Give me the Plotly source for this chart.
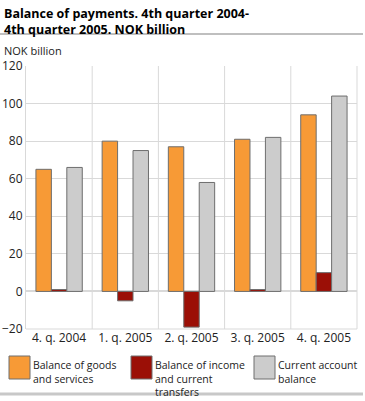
import plotly.graph_objects as go

categories = ["4. q. 2004", "1. q. 2005", "2. q. 2005", "3. q. 2005", "4. q. 2005"]
goods_services = [65, 80, 77, 81, 94]
income_transfers = [1, -5, -19, 1, 10]
current_account = [66, 75, 58, 82, 104]

names = ["Balance of goods<br>and services", "Balance of income<br>and current<br>transfers", "Current account<br>balance"]
colors = ["#f79a36", "#9b0f06", "#cccccc"]
series = [goods_services, income_transfers, current_account]

W, H = 365, 401
ML, MR, MT, MB = 26, 8, 66, 72
PW, PH = W - ML - MR, H - MT - MB


def px(x):
    return (x - ML) / PW


def py(y):
    return (H - MB - y) / PH


fig = go.Figure()
for n, c, s in zip(names, colors, series):
    fig.add_trace(go.Bar(x=categories, y=s, name=n.replace("<br>", " "), showlegend=False, hoverinfo="skip",
                         marker=dict(color=c, line=dict(color="#6e6e6e", width=1))))

fig.update_layout(
    width=W, height=H,
    margin=dict(l=ML, r=MR, t=MT, b=MB, autoexpand=False),
    paper_bgcolor="white", plot_bgcolor="white",
    font=dict(family="Open Sans, DejaVu Sans, sans-serif", size=12, color="#222"),
    barmode="group", bargap=0.3, bargroupgap=0,
    xaxis=dict(showgrid=False, ticks="", tickfont=dict(size=12), showline=False),
    yaxis=dict(range=[-20, 120], dtick=20, gridcolor="#d9d9d9", zeroline=True, zerolinecolor="#d9d9d9",
               showline=True, linecolor="#d9d9d9", ticks="", tickfont=dict(size=12)),
)
for i in range(1, len(categories)):
    fig.add_shape(type="line", xref="x", yref="paper", x0=i - 0.5, x1=i - 0.5, y0=0, y1=1,
                  line=dict(color="#d9d9d9", width=1), layer="below")
fig.add_shape(type="line", xref="paper", yref="paper", x0=1, x1=1, y0=0, y1=1, line=dict(color="#d9d9d9", width=1))
fig.add_shape(type="line", xref="paper", yref="paper", x0=0, x1=1, y0=0, y1=0, line=dict(color="#d9d9d9", width=1))

# title, rules, unit label
fig.add_annotation(text="<b>Balance of payments. 4th quarter 2004-<br>4th quarter 2005. NOK billion</b>",
                   xref="paper", yref="paper", x=px(2), y=py(3), xanchor="left", yanchor="top",
                   align="left", showarrow=False, font=dict(size=12.5, color="#000"))
fig.add_shape(type="line", xref="paper", yref="paper", x0=px(0), x1=px(363), y0=py(34), y1=py(34),
              line=dict(color="#aaaaaa", width=1.5))
fig.add_shape(type="line", xref="paper", yref="paper", x0=px(0), x1=px(363), y0=py(394), y1=py(394),
              line=dict(color="#c8c8c8", width=3))
fig.add_annotation(text="NOK billion", xref="paper", yref="paper", x=px(2), y=py(41),
                   xanchor="left", yanchor="top", showarrow=False, font=dict(size=11, color="#222"))

# legend (drawn as layout boxes + labels)
box_x = [9, 131, 254]
for bx, n, c in zip(box_x, names, colors):
    fig.add_shape(type="rect", xref="paper", yref="paper", x0=px(bx), x1=px(bx + 21), y0=py(356), y1=py(379),
                  fillcolor=c, line=dict(color="#6e6e6e", width=1))
    fig.add_annotation(text=n, xref="paper", yref="paper", x=px(bx + 23), y=py(357), borderpad=0,
                       xanchor="left", yanchor="top", align="left", showarrow=False,
                       font=dict(size=10.5, color="#222"))

fig.write_html("out.html", config={"displayModeBar": False, "staticPlot": True},
               post_script="document.body.style.margin='0px';document.body.style.overflow='hidden';")
